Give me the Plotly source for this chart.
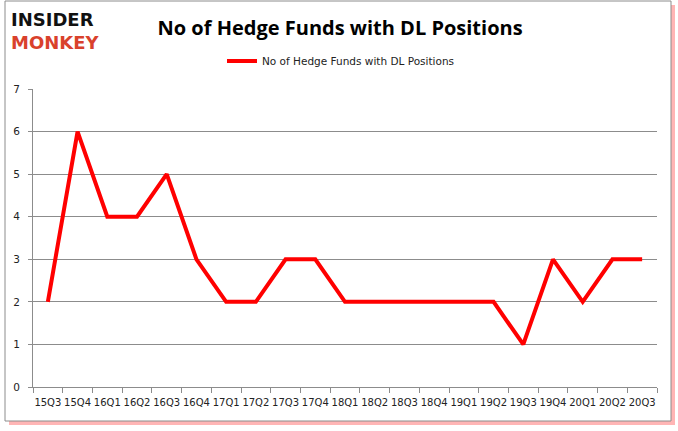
import plotly.graph_objects as go

quarters = ["15Q3", "15Q4", "16Q1", "16Q2", "16Q3", "16Q4", "17Q1", "17Q2", "17Q3", "17Q4",
            "18Q1", "18Q2", "18Q3", "18Q4", "19Q1", "19Q2", "19Q3", "19Q4", "20Q1", "20Q2", "20Q3"]
funds = [2, 6, 4, 4, 5, 3, 2, 2, 3, 3, 2, 2, 2, 2, 2, 2, 1, 3, 2, 3, 3]
series_name = "No of Hedge Funds with DL Positions"
y_ticks = [0, 1, 2, 3, 4, 5, 6, 7]

W, H = 678, 431
L, R, T, B = 33, 21, 89, 44
pw, ph = W - L - R, H - T - B


def px(x):
    return (x - L) / pw


def py(y):
    return (H - B - y) / ph


fig = go.Figure()
fig.add_trace(go.Scatter(
    x=quarters, y=funds, mode="lines", name=series_name,
    line=dict(color="#ff0000", width=4),
))

shapes = [
    # shadow
    dict(type="rect", xref="paper", yref="paper", x0=px(9), x1=px(675), y0=py(425), y1=py(5),
         line=dict(width=0), fillcolor="rgba(255,90,90,0.45)", layer="below"),
    # frame
    dict(type="rect", xref="paper", yref="paper", x0=px(5), x1=px(671), y0=py(421), y1=py(1),
         line=dict(color="#8c8c8c", width=1), fillcolor="white", layer="below"),
]

fig.update_layout(
    width=W, height=H,
    margin=dict(l=L, r=R, t=T, b=B, autoexpand=False),
    paper_bgcolor="white", plot_bgcolor="rgba(0,0,0,0)",
    shapes=shapes,
    showlegend=True,
    legend=dict(x=px(222), xanchor="left", y=py(61), yanchor="middle", orientation="h",
                font=dict(family="DejaVu Sans", size=10.5, color="#222"),
                bgcolor="rgba(0,0,0,0)", itemwidth=30),
    title=dict(text="<b>No of Hedge Funds with DL Positions</b>", x=px(346), xanchor="center",
               y=1 - 28 / H, yanchor="middle",
               font=dict(family="Open Sans", size=20, color="black")),
    xaxis=dict(type="category", range=[-0.5, len(quarters) - 0.5], showgrid=False,
               showline=True, linecolor="#8c8c8c",
               ticks="outside", tickson="boundaries", ticklen=5, tickcolor="#8c8c8c",
               tickfont=dict(family="DejaVu Sans", size=10, color="#222"), tickangle=0,
               ticklabelstandoff=6, automargin=False, fixedrange=True),
    yaxis=dict(range=[0, 7], tickvals=y_ticks, showgrid=True, gridcolor="#8c8c8c", gridwidth=1,
               showline=True, linecolor="#8c8c8c", ticks="outside", ticklen=4, tickcolor="#8c8c8c",
               tickfont=dict(family="DejaVu Sans", size=10.5, color="#222"), zeroline=False,
               ticklabelstandoff=6, automargin=False, fixedrange=True),
    annotations=[
        dict(text="<b>INSIDER</b><br><b><span style='color:#d9412c'>MONKEY</span></b>",
             xref="paper", yref="paper", x=px(9), y=py(31), align="left",
             xanchor="left", yanchor="middle", showarrow=False,
             font=dict(family="DejaVu Sans", size=18, color="#111")),
    ],
)

fig.write_html("out.html", config={"displayModeBar": False},
               post_script="document.body.style.margin='0';")
